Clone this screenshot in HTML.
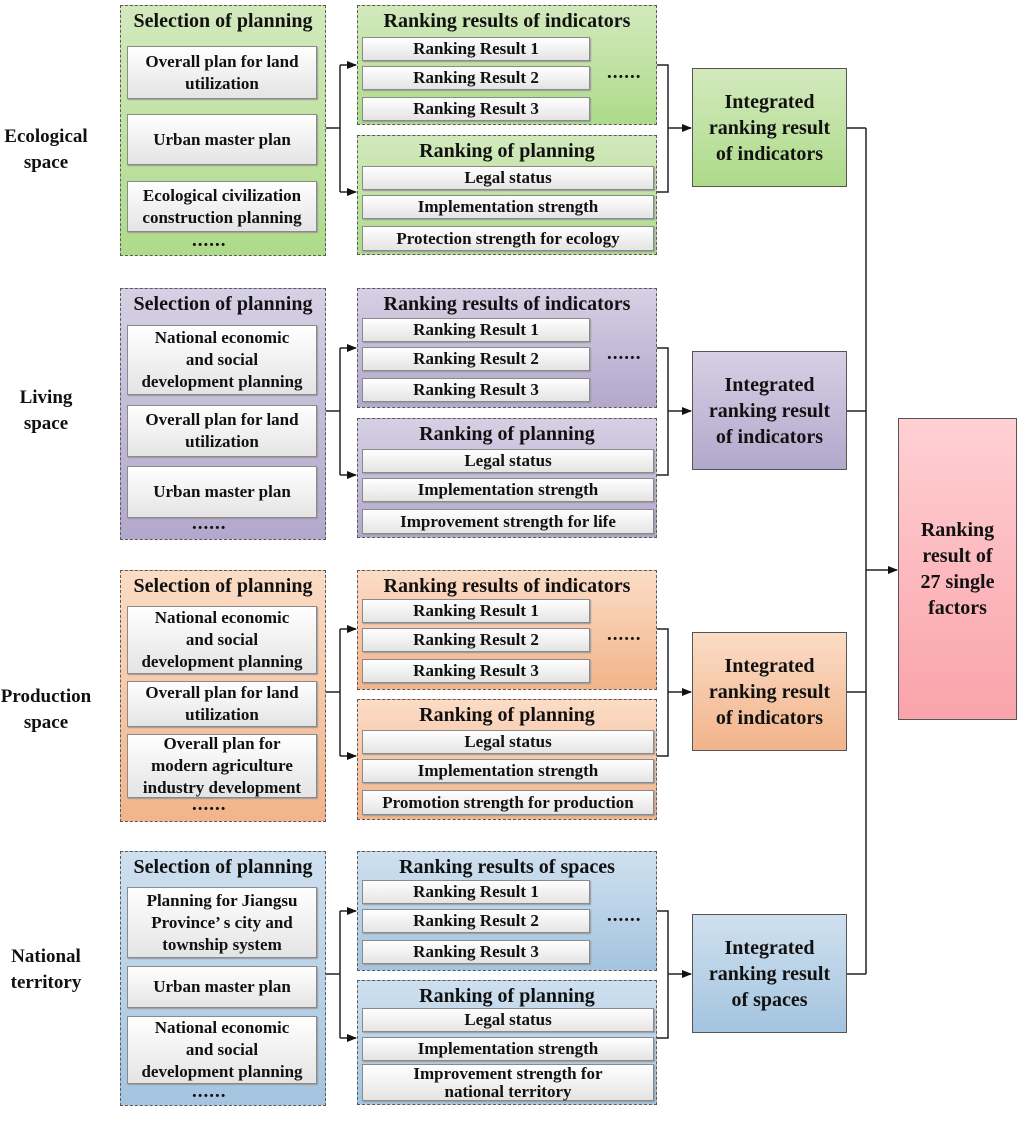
<!DOCTYPE html>
<html><head><meta charset="utf-8"><style>
*{margin:0;padding:0;box-sizing:border-box}
body{width:1024px;height:1112px;background:#fff;position:relative;overflow:hidden;font-family:"Liberation Serif",serif;font-weight:bold;color:#111}
.a{position:absolute}
.sec{position:absolute;left:0;width:1024px;height:280px}
.c{position:absolute;border:1.5px dashed #5a5a5a}
.t{position:absolute;left:0;right:0;text-align:center;font-size:20px;line-height:22px;white-space:nowrap}
.b{position:absolute;background:linear-gradient(#ffffff,#e4e4e4);border:1px solid #8a8a8a;box-shadow:1px 1px 1px #999;display:flex;align-items:center;justify-content:center;text-align:center;font-size:17px;line-height:22px;white-space:nowrap}
.dots{position:absolute;font-size:19px;letter-spacing:1px}
.ig{position:absolute;left:692px;top:68px;width:155px;height:119px;border:1px solid #555;display:flex;align-items:center;justify-content:center;text-align:center;font-size:20px;line-height:26px}
.lab{position:absolute;left:0;width:92px;text-align:center;font-size:19px;line-height:26px}
.g .c,.g .ig{background:linear-gradient(#d3e9bd,#addb8a)}
.p .c,.p .ig{background:linear-gradient(#d6d0e4,#b2a8cc)}
.o .c,.o .ig{background:linear-gradient(#fbdcc6,#f2b48a)}
.u .c,.u .ig{background:linear-gradient(#cfe0ef,#a4c4df)}
</style></head><body>

<div class="sec g" style="top:0">
<div class="lab" style="top:124px">Ecological<br>space</div>
<div class="c" style="left:120px;top:5px;width:206px;height:251px">
<div class="t" style="top:4px">Selection of planning</div></div>
<div class="b" style="left:127px;top:46px;width:190px;height:53px">Overall plan for land<br>utilization</div>
<div class="b" style="left:127px;top:114px;width:190px;height:51px">Urban master plan</div>
<div class="b" style="left:127px;top:181px;width:190px;height:51px">Ecological civilization<br>construction planning</div>
<div class="dots" style="left:192px;top:230px">......</div>
<div class="c" style="left:357px;top:5px;width:300px;height:120px"><div class="t" style="top:4px">Ranking results of indicators</div></div>
<div class="b" style="left:362px;top:37px;width:228px;height:24px">Ranking Result 1</div>
<div class="b" style="left:362px;top:66px;width:228px;height:24px">Ranking Result 2</div>
<div class="b" style="left:362px;top:97px;width:228px;height:24px">Ranking Result 3</div>
<div class="dots" style="left:607px;top:62px">......</div>
<div class="c" style="left:357px;top:135px;width:300px;height:120px"><div class="t" style="top:4px">Ranking of planning</div></div>
<div class="b" style="left:362px;top:166px;width:292px;height:24px">Legal status</div>
<div class="b" style="left:362px;top:195px;width:292px;height:24px">Implementation strength</div>
<div class="b" style="left:362px;top:226px;width:292px;height:25px">Protection strength for ecology</div>
<div class="ig">Integrated<br>ranking result<br>of indicators</div>
</div>

<div class="sec p" style="top:283px">
<div class="lab" style="top:102px">Living<br>space</div>
<div class="c" style="left:120px;top:5px;width:206px;height:252px">
<div class="t" style="top:4px">Selection of planning</div></div>
<div class="b" style="left:127px;top:42px;width:190px;height:70px">National economic<br>and social<br>development planning</div>
<div class="b" style="left:127px;top:122px;width:190px;height:52px">Overall plan for land<br>utilization</div>
<div class="b" style="left:127px;top:183px;width:190px;height:52px">Urban master plan</div>
<div class="dots" style="left:192px;top:230px">......</div>
<div class="c" style="left:357px;top:5px;width:300px;height:120px"><div class="t" style="top:4px">Ranking results of indicators</div></div>
<div class="b" style="left:362px;top:35px;width:228px;height:24px">Ranking Result 1</div>
<div class="b" style="left:362px;top:64px;width:228px;height:24px">Ranking Result 2</div>
<div class="b" style="left:362px;top:95px;width:228px;height:24px">Ranking Result 3</div>
<div class="dots" style="left:607px;top:60px">......</div>
<div class="c" style="left:357px;top:135px;width:300px;height:120px"><div class="t" style="top:4px">Ranking of planning</div></div>
<div class="b" style="left:362px;top:166px;width:292px;height:24px">Legal status</div>
<div class="b" style="left:362px;top:195px;width:292px;height:24px">Implementation strength</div>
<div class="b" style="left:362px;top:226px;width:292px;height:25px">Improvement strength for life</div>
<div class="ig">Integrated<br>ranking result<br>of indicators</div>
</div>

<div class="sec o" style="top:564px">
<div class="lab" style="top:120px">Production<br>space</div>
<div class="c" style="left:120px;top:6px;width:206px;height:252px">
<div class="t" style="top:4px">Selection of planning</div></div>
<div class="b" style="left:127px;top:42px;width:190px;height:68px">National economic<br>and social<br>development planning</div>
<div class="b" style="left:127px;top:117px;width:190px;height:46px">Overall plan for land<br>utilization</div>
<div class="b" style="left:127px;top:170px;width:190px;height:64px">Overall plan for<br>modern agriculture<br>industry development</div>
<div class="dots" style="left:192px;top:230px">......</div>
<div class="c" style="left:357px;top:6px;width:300px;height:120px"><div class="t" style="top:4px">Ranking results of indicators</div></div>
<div class="b" style="left:362px;top:35px;width:228px;height:24px">Ranking Result 1</div>
<div class="b" style="left:362px;top:64px;width:228px;height:24px">Ranking Result 2</div>
<div class="b" style="left:362px;top:95px;width:228px;height:24px">Ranking Result 3</div>
<div class="dots" style="left:607px;top:60px">......</div>
<div class="c" style="left:357px;top:135px;width:300px;height:121px"><div class="t" style="top:4px">Ranking of planning</div></div>
<div class="b" style="left:362px;top:166px;width:292px;height:24px">Legal status</div>
<div class="b" style="left:362px;top:195px;width:292px;height:24px">Implementation strength</div>
<div class="b" style="left:362px;top:226px;width:292px;height:25px">Promotion strength for production</div>
<div class="ig">Integrated<br>ranking result<br>of indicators</div>
</div>

<div class="sec u" style="top:846px">
<div class="lab" style="top:98px">National<br>territory</div>
<div class="c" style="left:120px;top:5px;width:206px;height:255px">
<div class="t" style="top:4px">Selection of planning</div></div>
<div class="b" style="left:127px;top:41px;width:190px;height:71px">Planning for Jiangsu<br>Province’ s city and<br>township system</div>
<div class="b" style="left:127px;top:120px;width:190px;height:42px">Urban master plan</div>
<div class="b" style="left:127px;top:170px;width:190px;height:68px">National economic<br>and social<br>development planning</div>
<div class="dots" style="left:192px;top:235px">......</div>
<div class="c" style="left:357px;top:5px;width:300px;height:120px"><div class="t" style="top:4px">Ranking results of spaces</div></div>
<div class="b" style="left:362px;top:34px;width:228px;height:24px">Ranking Result 1</div>
<div class="b" style="left:362px;top:63px;width:228px;height:24px">Ranking Result 2</div>
<div class="b" style="left:362px;top:94px;width:228px;height:24px">Ranking Result 3</div>
<div class="dots" style="left:607px;top:59px">......</div>
<div class="c" style="left:357px;top:134px;width:300px;height:125px"><div class="t" style="top:4px">Ranking of planning</div></div>
<div class="b" style="left:362px;top:162px;width:292px;height:24px">Legal status</div>
<div class="b" style="left:362px;top:191px;width:292px;height:24px">Implementation strength</div>
<div class="b" style="left:362px;top:218px;width:292px;height:37px;line-height:18px">Improvement strength for<br>national territory</div>
<div class="ig">Integrated<br>ranking result<br>of spaces</div>
</div>

<div class="a" style="left:898px;top:418px;width:119px;height:302px;border:1px solid #555;background:linear-gradient(#ffd0d3,#f9a3aa);display:flex;align-items:center;justify-content:center;text-align:center;font-size:20px;line-height:26px">Ranking<br>result of<br>27 single<br>factors</div>

<svg class="a" style="left:0;top:0" width="1024" height="1112">
<defs><marker id="ar" markerWidth="10" markerHeight="8" refX="9" refY="4" orient="auto" markerUnits="userSpaceOnUse"><path d="M0,0L10,4L0,8z" fill="#111"/></marker></defs>
<g fill="none" stroke="#222" stroke-width="1.5">
<path d="M326,128H340M340,65V192"/><path d="M340,65H356" marker-end="url(#ar)"/><path d="M340,192H356" marker-end="url(#ar)"/>
<path d="M657,65H668V192H657"/><path d="M668,128H691" marker-end="url(#ar)"/><path d="M847,128H866"/>
<g transform="translate(0,283)"><path d="M326,128H340M340,65V192"/><path d="M340,65H356" marker-end="url(#ar)"/><path d="M340,192H356" marker-end="url(#ar)"/>
<path d="M657,65H668V192H657"/><path d="M668,128H691" marker-end="url(#ar)"/><path d="M847,128H866"/></g>
<g transform="translate(0,564)"><path d="M326,128H340M340,65V192"/><path d="M340,65H356" marker-end="url(#ar)"/><path d="M340,192H356" marker-end="url(#ar)"/>
<path d="M657,65H668V192H657"/><path d="M668,128H691" marker-end="url(#ar)"/><path d="M847,128H866"/></g>
<g transform="translate(0,846)"><path d="M326,128H340M340,65V192"/><path d="M340,65H356" marker-end="url(#ar)"/><path d="M340,192H356" marker-end="url(#ar)"/>
<path d="M657,65H668V192H657"/><path d="M668,128H691" marker-end="url(#ar)"/><path d="M847,128H866"/></g>
<path d="M866,128V974"/><path d="M866,570H897" marker-end="url(#ar)"/>
</g>
</svg>
</body></html>
